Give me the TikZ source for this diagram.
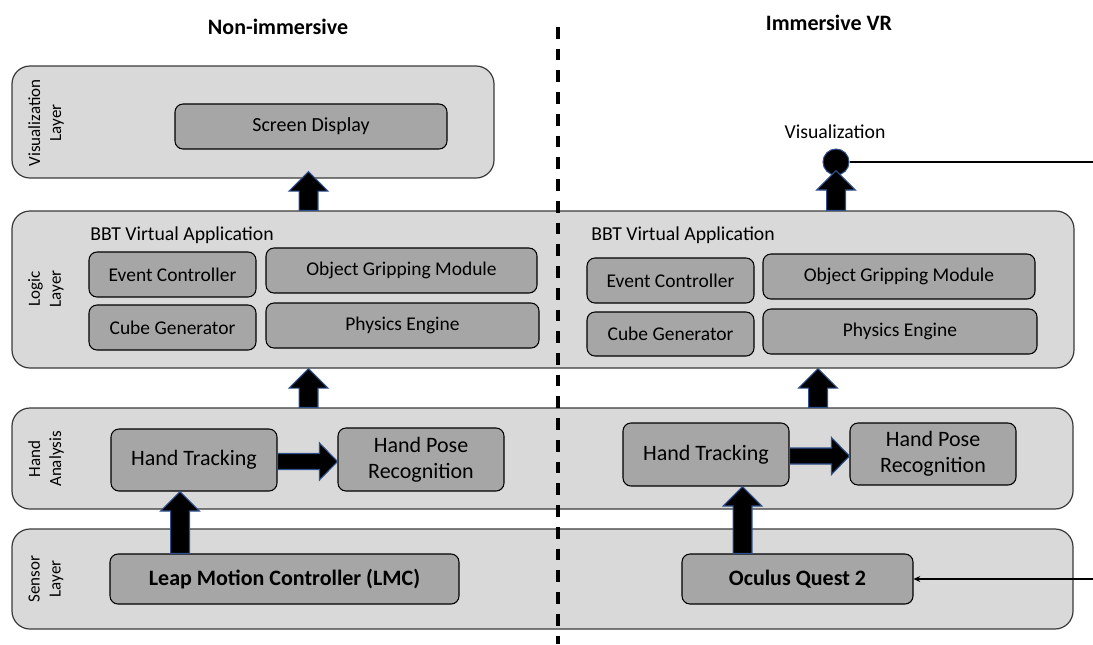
\documentclass[tikz,border=0pt]{standalone}
\usepackage{fontspec}
\setmainfont{Carlito}
\usetikzlibrary{calc,arrows.meta}

\definecolor{layerfill}{HTML}{D9D9D9}
\definecolor{modfill}{HTML}{A6A6A6}
\definecolor{layeredge}{HTML}{3A3A3A}
\definecolor{arrowedge}{HTML}{2F528F}

% box node spanning the corners (#3,#4) and (#5,#6), in pixel units
\newcommand\boxnode[7]{%
  \node[#2,minimum width={(#5-#3)*0.75pt},minimum height={(#6-#4)*0.75pt}]
    (#1) at ({(#3+#5)/2},{(#4+#6)/2}) {#7};}
% vertical block arrow from #1 (tail, below) up to #2 (tip)
\newcommand\upblock[2]{%
  \filldraw[blockarr] let \p1=#1, \p2=#2 in
    (\x1-7.1pt,\y1) -- (\x1-7.1pt,\y2-14.6pt) -- (\x1-14.6pt,\y2-14.6pt)
    -- (\x1,\y2) -- (\x1+14.6pt,\y2-14.6pt) -- (\x1+7.1pt,\y2-14.6pt)
    -- (\x1+7.1pt,\y1) -- cycle;}
% horizontal block arrow from #1 (tail) right to #2 (tip)
\newcommand\rightblock[2]{%
  \filldraw[blockarr] let \p1=#1, \p2=#2 in
    (\x1,\y1+6pt) -- (\x2-13.5pt,\y1+6pt) -- (\x2-13.5pt,\y1+13.9pt)
    -- (\x2,\y1) -- (\x2-13.5pt,\y1-13.9pt) -- (\x2-13.5pt,\y1-6pt)
    -- (\x1,\y1-6pt) -- cycle;}

\begin{document}
\begin{tikzpicture}[x=0.75pt,y=-0.75pt,
  layer/.style={draw=layeredge,fill=layerfill,line width=0.9pt,rounded corners=13.5pt,inner sep=0pt},
  module/.style={draw=black,fill=modfill,line width=0.8pt,rounded corners=6pt,inner sep=0pt,
    font=\fontsize{14.6pt}{17pt}\selectfont,align=center},
  bigmod/.style={module,font=\fontsize{16.5pt}{19.5pt}\selectfont},
  devmod/.style={module,font=\fontsize{16.5pt}{19.5pt}\selectfont\bfseries},
  vlabel/.style={rotate=90,align=center,inner sep=0pt,font=\fontsize{12.75pt}{15.75pt}\selectfont},
  heading/.style={inner sep=0pt,font=\fontsize{16.5pt}{19.5pt}\selectfont\bfseries},
  caption/.style={inner sep=0pt,font=\fontsize{14.8pt}{17pt}\selectfont},
  blockarr/.style={fill=black,draw=arrowedge,line width=0.8pt,line join=miter}]

\useasboundingbox (0,0) rectangle (1093,644);

% headings
\node[heading] (tNon) at (278,27) {Non-immersive};
\node[heading] (tImm) at (829,23) {Immersive VR};

% layers
\boxnode{vis}{layer}{12}{66}{494}{178}{}
\boxnode{logic}{layer}{12}{211}{1074}{368}{}
\boxnode{hand}{layer}{12}{408}{1073}{509}{}
\boxnode{sensor}{layer}{12}{529}{1073}{629}{}

\node[vlabel] (lVis) at (46,123) {Visualization\\Layer};
\node[vlabel] (lLogic) at (46,289) {Logic\\Layer};
\node[vlabel] (lHand) at (46,459) {Hand\\Analysis};
\node[vlabel] (lSensor) at (46,579) {Sensor\\Layer};

% visualization layer
\boxnode{sd}{module,font=\fontsize{15pt}{17pt}\selectfont}{175}{104}{447}{149}{Screen Display}

% logic layer, non-immersive
\node[caption,anchor=west] (bbtL) at (90,235) {BBT Virtual Application};
\boxnode{ecL}{module}{89}{252}{256}{297}{Event Controller}
\boxnode{ogmL}{module}{266}{248}{537}{293}{Object Gripping Module}
\boxnode{cgL}{module}{89}{305}{256}{350}{Cube Generator}
\boxnode{peL}{module}{266}{303}{539}{348}{Physics Engine}

% logic layer, immersive
\node[caption,anchor=west] (bbtR) at (591,235) {BBT Virtual Application};
\boxnode{ecR}{module}{587}{258}{754}{303}{Event Controller}
\boxnode{ogmR}{module}{763}{254}{1035}{299}{Object Gripping Module}
\boxnode{cgR}{module}{587}{312}{754}{356}{Cube Generator}
\boxnode{peR}{module}{763}{309}{1037}{354}{Physics Engine}

% hand analysis
\boxnode{htL}{bigmod}{111}{429}{277}{491}{Hand Tracking}
\boxnode{hprL}{bigmod}{338}{428}{504}{491}{Hand Pose\\Recognition}
\boxnode{htR}{bigmod}{623}{423}{789}{486}{Hand Tracking}
\boxnode{hprR}{bigmod}{850}{423}{1016}{485}{Hand Pose\\Recognition}

% sensors
\boxnode{lmc}{devmod}{110}{554}{459}{604}{Leap Motion Controller (LMC)}
\boxnode{oq}{devmod}{682}{554}{913}{604}{Oculus Quest 2}

% immersive visualization output
\node[caption] (vizTxt) at (835,132) {Visualization};
\node[circle,fill=black,draw=arrowedge,line width=0.8pt,minimum size=19.5pt,inner sep=0pt] (viz) at (836,162) {};
\coordinate (vizOut) at (1093,162);
\draw[line width=1.2pt] (viz.east) -- (vizOut);

% headset input
\coordinate (hmdIn) at (1093,579);
\draw[line width=0.9pt,-{Stealth[length=5pt,width=4.5pt]}] (hmdIn) -- (oq.east);

% block arrows
\coordinate (colA) at (308.5,0);
\coordinate (colB) at (818,0);
\coordinate (colC) at (180,0);
\coordinate (colD) at (742.5,0);

\upblock{(colA |- logic.north)}{($(colA |- vis.south)+(0,-7)$)}
\upblock{(viz.south |- logic.north)}{($(viz.south)+(0,-5)$)}
\upblock{(colA |- hand.north)}{(colA |- logic.south)}
\upblock{(colB |- hand.north)}{(colB |- logic.south)}
\upblock{(colC |- lmc.north)}{(colC |- htL.south)}
\upblock{(colD |- oq.north)}{(colD |- htR.south)}
\rightblock{($(htL.east)+(0,1.5)$)}{($(hprL.west |- htL.east)+(0,1.5)$)}
\rightblock{($(htR.east)+(0,1.5)$)}{($(hprR.west |- htR.east)+(0,1.5)$)}

% divider between the two setups
\coordinate (divTop) at (558,27);
\coordinate (divBot) at (558,644);
\draw[line width=2.5pt,dash pattern=on 8.8pt off 7.5pt] (divTop) -- (divBot);

\end{tikzpicture}
\end{document}
